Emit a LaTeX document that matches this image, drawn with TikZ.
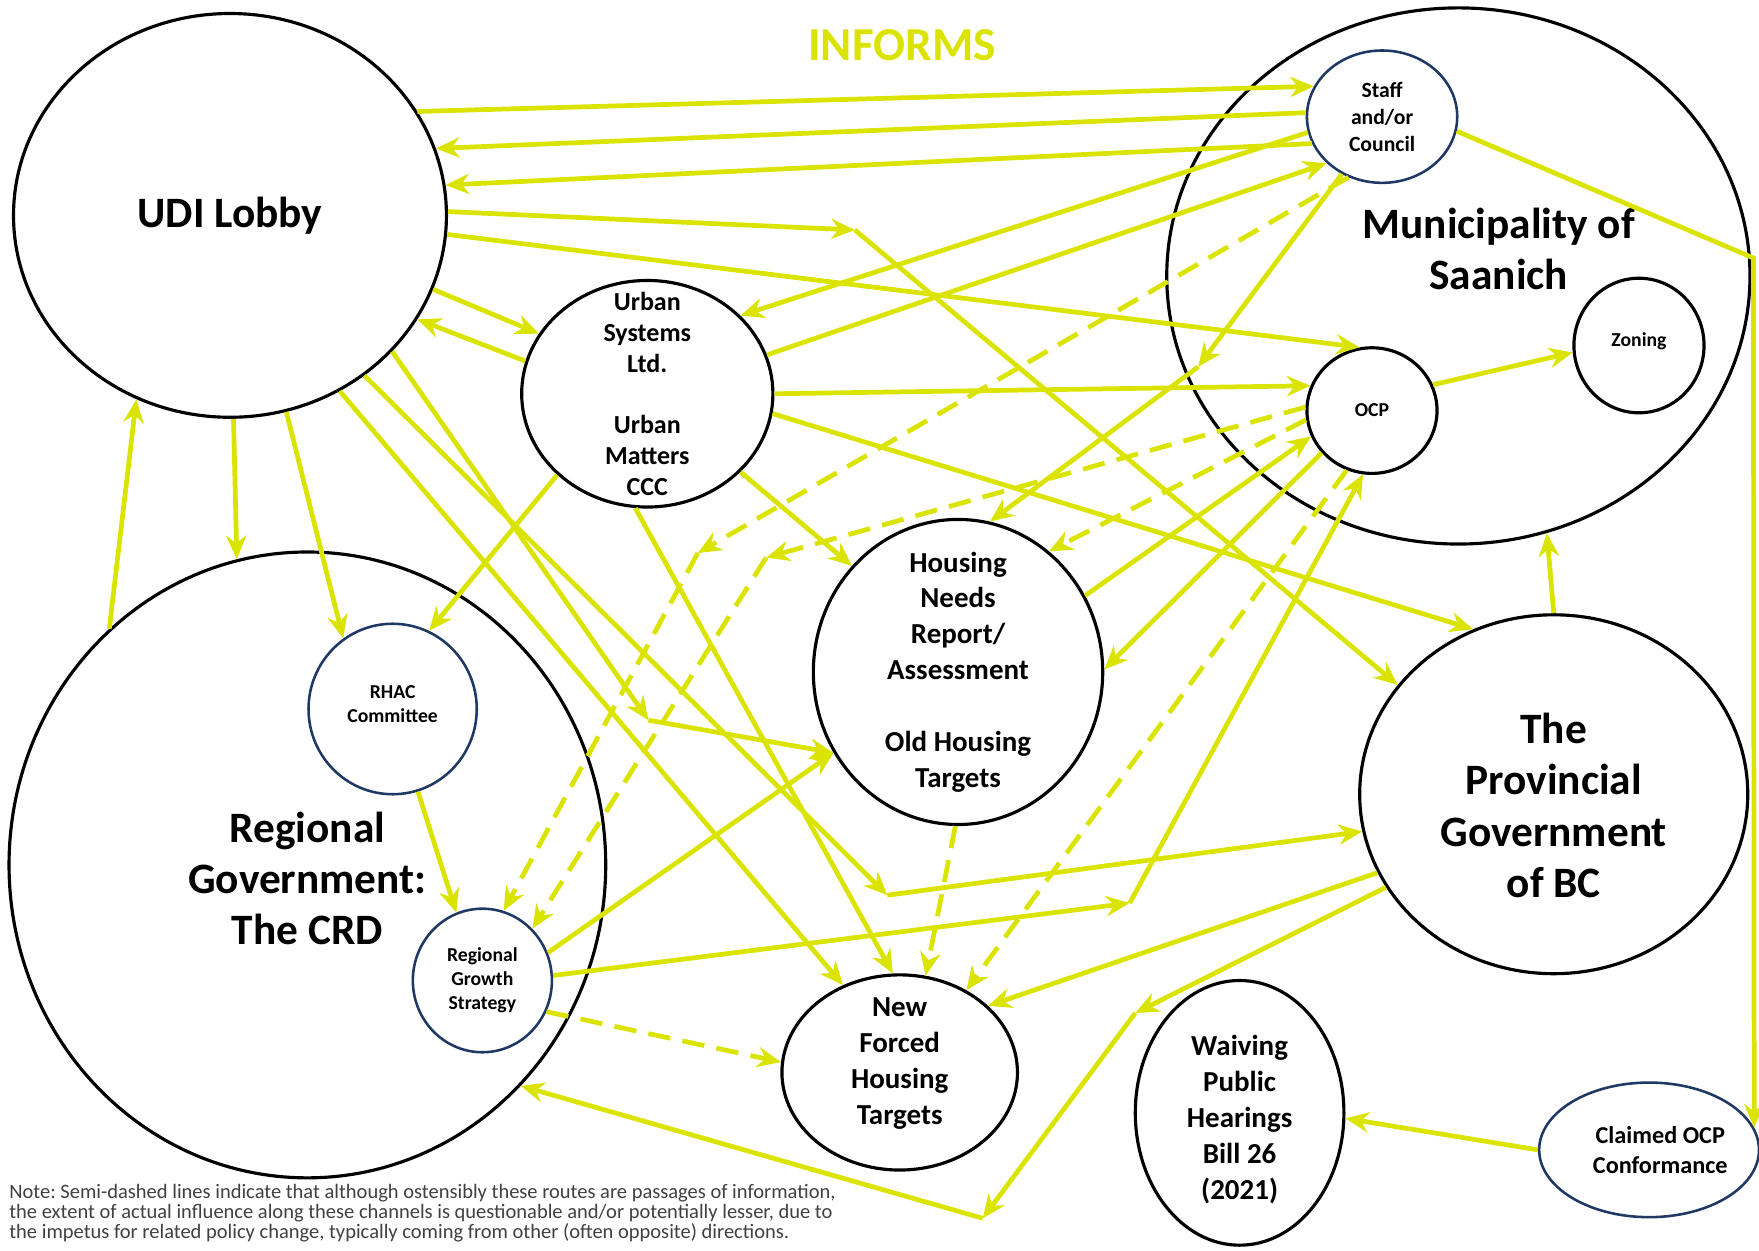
\documentclass[tikz,border=0pt]{standalone}
\usepackage{fontspec}
\setmainfont{Carlito}
\usepackage{tikz}
\usetikzlibrary{arrows.meta, shapes.geometric}

\definecolor{InfoYellow}{RGB}{218,228,0}
\definecolor{NavyLine}{RGB}{31,56,100}
\definecolor{NoteGrey}{RGB}{64,64,64}

\newcommand{\fontBig}{\fontsize{22}{26}\selectfont\bfseries}
\newcommand{\fontMid}{\fontsize{14.7}{18.2}\selectfont\bfseries}
\newcommand{\fontUrban}{\fontsize{13.2}{15.6}\selectfont\bfseries}
\newcommand{\fontClaim}{\fontsize{12.3}{15.4}\selectfont\bfseries}
\newcommand{\fontStaff}{\fontsize{11}{13.7}\selectfont\bfseries}
\newcommand{\fontTiny}{\fontsize{10}{12.2}\selectfont\bfseries}

\tikzset{
  body/.style={ellipse, draw=black, line width=1.6pt, inner sep=0pt},
  inner/.style={body, draw=NavyLine, line width=1.3pt},
  every label/.style={align=center, inner sep=0pt, text=black},
  flow/.style={-{Stealth[length=4.2mm, width=3.6mm]}, InfoYellow, line width=2.4pt},
  weakflow/.style={flow, dash pattern=on 4mm off 2.2mm},
}

\begin{document}
\frenchspacing
\begin{tikzpicture}[x=0.02cm, y=-0.02cm]
  \useasboundingbox (0,0) rectangle (1568,1115);

  % bodies
  \node[body, minimum width=7.72cm, minimum height=7.2cm,
        label={[font=\fontBig]center:UDI Lobby}] (udi) at (205,192) {};
  \node[body, minimum width=10.4cm, minimum height=9.56cm] (saanich) at (1300,246) {};
  \node[align=center, font=\fontBig, inner sep=0pt] (saanichname) at (1336,222)
        {Municipality of\\Saanich};
  \node[inner, minimum width=2.68cm, minimum height=2.36cm,
        label={[font=\fontStaff]center:Staff\\and/or\\Council}] (staff) at (1232,104) {};
  \node[body, minimum width=2.32cm, minimum height=2.4cm,
        label={[font=\fontTiny, yshift=0.08cm]center:Zoning}] (zoning) at (1461,308) {};
  \node[body, minimum width=2.32cm, minimum height=2.24cm,
        label={[font=\fontTiny]center:OCP}] (ocp) at (1223,366) {};
  \node[body, minimum width=4.48cm, minimum height=4.04cm,
        label={[font=\fontUrban]center:Urban\\Systems\\Ltd.\\[15.6pt]Urban\\Matters\\CCC}]
        (urban) at (577,351) {};
  \node[body, minimum width=5.16cm, minimum height=5.44cm,
        label={[font=\fontMid]center:Housing\\Needs\\Report/\\Assessment\\[18.2pt]Old Housing\\Targets}]
        (needs) at (854,599) {};
  \node[body, minimum width=6.92cm, minimum height=6.4cm,
        label={[font=\fontBig, yshift=-0.2cm]center:The\\Provincial\\Government\\of BC}]
        (province) at (1385,708) {};
  \node[body, minimum width=10.64cm, minimum height=11.16cm] (crd) at (274,771) {};
  \node[align=center, font=\fontBig, inner sep=0pt] (crdname) at (274,783)
        {Regional\\Government:\\The CRD};
  \node[inner, minimum width=3.0cm, minimum height=3.04cm,
        label={[font=\fontTiny, yshift=0.08cm]center:RHAC\\Committee}] (rhac) at (350,632) {};
  \node[inner, minimum width=2.48cm, minimum height=2.56cm,
        label={[font=\fontTiny]center:Regional\\Growth\\Strategy}] (growth) at (430,874) {};
  \node[body, minimum width=4.2cm, minimum height=3.48cm,
        label={[font=\fontMid, yshift=0.16cm]center:New\\Forced\\Housing\\Targets}]
        (targets) at (802,956) {};
  \node[body, minimum width=3.72cm, minimum height=4.72cm,
        label={[font=\fontMid, yshift=-0.12cm]center:Waiving\\Public\\Hearings\\Bill 26\\(2021)}]
        (waiving) at (1105,992) {};
  \node[inner, minimum width=3.92cm, minimum height=2.4cm,
        label={[font=\fontClaim, xshift=0.2cm]center:Claimed OCP\\Conformance}]
        (claimed) at (1470,1025) {};

  \node[text=InfoYellow, font=\fontsize{24}{28}\selectfont\bfseries] (informs) at (804,40) {INFORMS};
  \node[anchor=north west, align=left, inner sep=0pt, text=NoteGrey,
        font=\fontsize{10.4}{10.3}\selectfont] (note) at (8,1055)
        {Note: Semi-dashed lines indicate that although ostensibly these routes are passages of information,\\
         the extent of actual influence along these channels is questionable and/or potentially lesser, due to\\
         the impetus for related policy change, typically coming from other (often opposite) directions.};

  % turning points
  \coordinate (j1) at (762,205);
  \coordinate (j2) at (791,798);
  \coordinate (j3) at (578,642);
  \coordinate (j4) at (1007,805);
  \coordinate (j5) at (1012,903);
  \coordinate (j6) at (876,1086);
  \coordinate (j7) at (1563,230);
  \coordinate (j8) at (1068,327);
  \coordinate (j9) at (622,493);
  \coordinate (j10) at (683,497);

  % UDI lobby
  \draw[flow] (udi.29.9) -- (staff.156.3);
  \draw[flow] (staff.177.4) -- (udi.18.6);
  \draw[flow] (staff.201) -- (udi.8.5);
  \draw[flow] (udi.1) -- (j1);
  \draw[flow] (j1) -- (province.145.2);
  \draw[flow] (udi.-5.9) -- (ocp.101);
  \draw[flow] (udi.-20.1) -- (urban.151.1);
  \draw[flow] (urban.165.8) -- (udi.-29);
  \draw[flow] (udi.-89) -- (crd.103.7);
  \draw[flow] (crd.130.5) -- (udi.243.2);
  \draw[flow] (udi.-74) -- (rhac.125.2);
  \draw[flow] (udi.-50) -- (j2);
  \draw[flow] (j2) -- (province.191.3);
  \draw[flow] (udi.-58) -- (targets.123.3);
  \draw[flow] (udi.-40) -- (j3);
  \draw[flow] (j3) -- (needs.213.5);

  % consultants
  \draw[flow] (staff.192.7) -- (urban.40.8);
  \draw[flow] (urban.18.6) -- (staff.220.8);
  \draw[flow] (urban.0.5) -- (ocp.158);
  \draw[flow] (urban.-9.9) -- (province.116.9);
  \draw[flow] (urban.-40.1) -- (needs.135);
  \draw[flow] (urban.222.4) -- (rhac.65);
  \draw[flow] (urban.264.3) -- (targets.94.7);

  % regional
  \draw[flow] (rhac.-73.2) -- (growth.111.9);
  \draw[flow] (growth.23.2) -- (needs.213.5);
  \draw[flow] (growth.4) -- (j4);
  \draw[flow] (j4) -- (ocp.262);
  \draw[weakflow] (growth.-26.6) -- (targets.175.6);

  % municipality
  \draw[flow] (staff.235.4) -- (j8);
  \draw[flow] (j8) -- (needs.78.4);
  \draw[weakflow] (staff.241.1) -- (j9);
  \draw[weakflow] (j9) -- (growth.73.9);
  \draw[weakflow] (ocp.177) -- (j10);
  \draw[weakflow] (j10) -- (growth.46);
  \draw[weakflow] (ocp.188.8) -- (needs.53.5);
  \draw[flow] (needs.31.6) -- (ocp.203.4);
  \draw[flow] (ocp.220.8) -- (needs.1.8);
  \draw[weakflow] (needs.-91.7) -- (targets.75.4);
  \draw[weakflow] (ocp.247) -- (targets.51);
  \draw[flow] (ocp.23.8) -- (zoning.186.5);
  \draw[flow] (staff.-11.6) -- (j7) -- (claimed.12);

  % province
  \draw[flow] (province.90) -- (saanich.-71.9);
  \draw[flow] (province.204.4) -- (targets.37.1);
  \draw[flow] (province.209.5) -- (j5);
  \draw[flow] (j5) -- (j6);
  \draw[flow] (j6) -- (crd.-46.9);
  \draw[flow] (claimed.180) -- (waiving.-3);
\end{tikzpicture}
\end{document}
